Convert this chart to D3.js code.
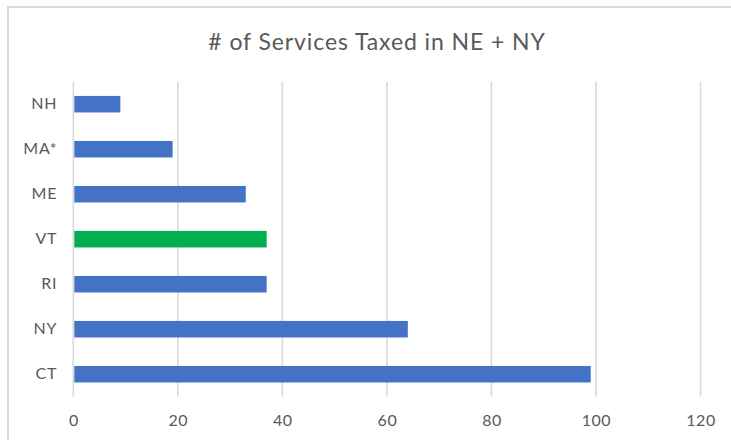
<!DOCTYPE html>
<html><head><meta charset="utf-8">
<script src="https://cdn.jsdelivr.net/npm/d3@7"></script>
<style>body{margin:0;background:#fff}svg{display:block}</style>
</head><body>
<script>
const categories = ["NH","MA*","ME","VT","RI","NY","CT"];
const values = [9,19,33,37,37,64,99];
const barColors = ["#4472C4","#4472C4","#4472C4","#00B050","#4472C4","#4472C4","#4472C4"];
const xTicks = [0,20,40,60,80,100,120];
const title = "# of Services Taxed in NE + NY";

(function(){
const W = 731, H = 440;
const svg = d3.select("body").append("svg").attr("width", W).attr("height", H);
svg.append("rect").attr("x",8).attr("y",7).attr("width",900).attr("height",600)
  .attr("fill","#fff").attr("stroke","#D9D9D9").attr("stroke-width",2);

const pL = 73.3, pR = 700.5, pT = 81.7, pB = 396.7;
const x = d3.scaleLinear().domain([0,120]).range([pL,pR]);
const y = d3.scaleBand().domain(categories).range([pT,pB]).paddingInner(0.633).paddingOuter(0.3165);

svg.append("g").selectAll("line").data(xTicks).join("line")
  .attr("x1",d=>x(d)).attr("x2",d=>x(d)).attr("y1",pT).attr("y2",pB)
  .attr("stroke","#D9D9D9").attr("stroke-width",1.6);

svg.append("g").selectAll("rect").data(categories).join("rect")
  .attr("x",x(0)+1).attr("y",d=>y(d))
  .attr("width",(d,i)=>x(values[i])-x(0)-1).attr("height",y.bandwidth())
  .attr("fill",(d,i)=>barColors[i]);

const font = "Lato, 'Open Sans', sans-serif";
const xAxis = d3.axisBottom(x).tickValues(xTicks).tickSize(0).tickPadding(18);
const gx = svg.append("g").attr("transform",`translate(0,${pB})`).call(xAxis);
gx.select(".domain").remove();
gx.selectAll("text").attr("font-family",font).attr("font-size",16).attr("fill","#595959")
  .attr("letter-spacing",0.5);

const yAxis = d3.axisLeft(y).tickSize(0).tickPadding(16);
const gy = svg.append("g").attr("transform",`translate(${pL},0)`).call(yAxis);
gy.select(".domain").remove();
gy.selectAll("text").attr("font-family",font).attr("font-size",16).attr("fill","#595959")
  .attr("letter-spacing",0.8);

svg.append("text").attr("x",377).attr("y",50).attr("text-anchor","middle")
  .attr("font-family",font).attr("font-size",23).attr("fill","#595959")
  .attr("letter-spacing",0.9)
  .text(title);
})();
</script>
</body></html>
